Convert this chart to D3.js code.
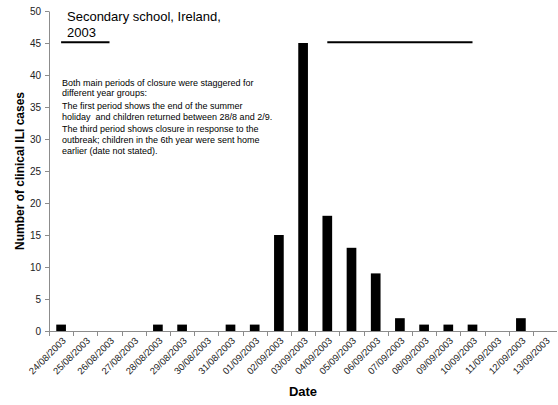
<!DOCTYPE html>
<html><head><meta charset="utf-8">
<script src="https://cdn.jsdelivr.net/npm/d3@7"></script>
<style>body{margin:0;background:#fff}svg{display:block;font-family:"Liberation Sans",Arial,sans-serif}</style>
</head><body><svg id="c" width="558" height="405"></svg>
<script>
const dates = ["24/08/2003","25/08/2003","26/08/2003","27/08/2003","28/08/2003","29/08/2003","30/08/2003","31/08/2003","01/09/2003","02/09/2003","03/09/2003","04/09/2003","05/09/2003","06/09/2003","07/09/2003","08/09/2003","09/09/2003","10/09/2003","11/09/2003","12/09/2003","13/09/2003"];
const cases = [1,0,0,0,1,1,0,1,1,15,45,18,13,9,2,1,1,1,0,2,0];
const yTicks = [0,5,10,15,20,25,30,35,40,45,50];
const closurePeriods = [["24/08/2003","26/08/2003"],["04/09/2003","10/09/2003"]];
const closureLevel = 45.1;
const titleLines = ["Secondary school, Ireland,","2003"];
const noteLines = ["Both main periods of closure were staggered for","different year groups:","The first period shows the end of the summer","holiday  and children returned between 28/8 and 2/9.","The third period shows closure in response to the","outbreak; children in the 6th year were sent home","earlier (date not stated)."];

const svg = d3.select("#c");
const L = 49, R = 557, T = 11, B = 331;
const bandW = 24.2;
const x = d3.scaleBand().domain(dates).range([L, L + bandW*dates.length]).paddingInner(0.6).paddingOuter(0.3);
const y = d3.scaleLinear().domain([0,50]).range([B,T]);
const axisCol = "#8c8c8c";

// y axis
const ya = svg.append("g").attr("transform",`translate(${L},0)`)
  .call(d3.axisLeft(y).tickValues(yTicks).tickSize(4).tickSizeOuter(0).tickPadding(4));
ya.select(".domain").attr("stroke",axisCol);
ya.selectAll(".tick line").attr("stroke",axisCol);
ya.selectAll(".tick text").attr("font-size",10).attr("fill","#222").attr("font-family","Liberation Sans, Arial, sans-serif");

// bars
svg.append("g").selectAll("rect").data(dates.map((d,i)=>({d,v:cases[i]})).filter(o=>o.v>0))
  .enter().append("rect")
  .attr("x",o=>x(o.d)).attr("width",x.bandwidth())
  .attr("y",o=>y(o.v)).attr("height",o=>B-y(o.v)).attr("fill","#000");

// x axis
const xs = d3.scaleLinear().domain([0,dates.length]).range([L, L+bandW*dates.length]);
const xg = svg.append("g");
xg.append("line").attr("x1",L).attr("x2",R).attr("y1",B+0.5).attr("y2",B+0.5).attr("stroke",axisCol);
xg.selectAll("line.t").data(d3.range(dates.length)).enter().append("line").attr("class","t")
  .attr("x1",i=>Math.round(xs(i))+0.5).attr("x2",i=>Math.round(xs(i))+0.5).attr("y1",B).attr("y2",B+5).attr("stroke",axisCol);
xg.selectAll("text").data(dates).enter().append("text")
  .attr("transform",d=>`translate(${x(d)+x.bandwidth()/2+3},${B+8}) rotate(-45)`)
  .attr("text-anchor","end").attr("dy","0.35em").attr("font-size",9.5).attr("fill","#222").text(d=>d);

// closure lines
svg.append("g").selectAll("line").data(closurePeriods).enter().append("line")
  .attr("x1",p=>x(p[0])+x.bandwidth()/2).attr("x2",p=>x(p[1])+x.bandwidth()/2)
  .attr("y1",y(closureLevel)).attr("y2",y(closureLevel)).attr("stroke","#000").attr("stroke-width",2);

// title
svg.append("g").selectAll("text").data(titleLines).enter().append("text")
  .attr("x",67).attr("y",(d,i)=>21+i*15.5).attr("font-size",13).attr("fill","#000").text(d=>d);

// note
const noteY = [85.5,95.5,108.5,119.5,131.5,142.5,153.5];
svg.append("g").selectAll("text").data(noteLines).enter().append("text")
  .attr("x",62).attr("y",(d,i)=>noteY[i]).attr("font-size",9).attr("fill","#000").attr("xml:space","preserve")
  .style("white-space","pre").text(d=>d);

// axis titles
svg.append("text").attr("x",(L+R)/2).attr("y",396).attr("text-anchor","middle")
  .attr("font-size",13).attr("font-weight","bold").text("Date");
svg.append("text").attr("transform",`translate(24,${(T+B)/2}) rotate(-90)`).attr("text-anchor","middle")
  .attr("font-size",12).attr("font-weight","bold").text("Number of clinical ILI cases");
</script></body></html>
